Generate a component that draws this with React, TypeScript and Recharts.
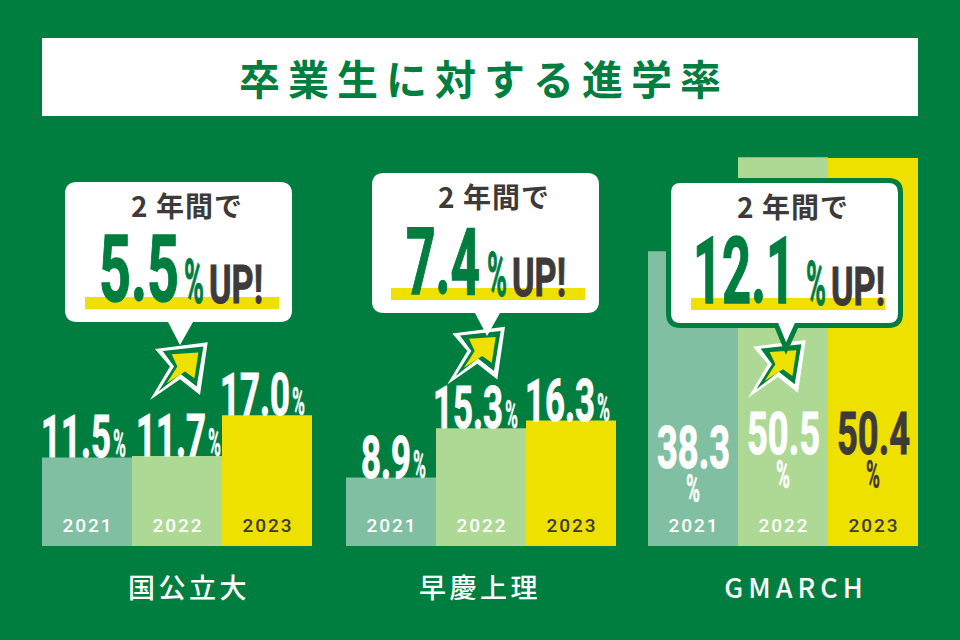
import React from "react";
import { BarChart, Bar, XAxis, YAxis, Cell, LabelList } from "recharts";

const years = ["2021", "2022", "2023"];
const universities = ["国公立大", "早慶上理", "GMARCH"];
const nationalRates = [11.5, 11.7, 17.0];
const sokeiRates = [8.9, 15.3, 16.3];
const gmarchRates = [38.3, 50.5, 50.4];
const gains = ["5.5", "7.4", "12.1"];

const GREEN = "#007E3F";
const DARK = "#3E3A39";
const YELLOW = "#EEE100";
const barColors = ["#80BFA2", "#ADD994", YELLOW];
const yearColors = ["#fff", "#fff", DARK];
const JP = '"Noto Sans CJK JP", sans-serif';
const NARROW = '"Liberation Sans Narrow", "Roboto", sans-serif';

// where each group sits on the page
const charts = [
  { left: 42, nameX: 189, rates: nationalRates, inside: false, nudge: [0, 5, -1] },
  { left: 346, nameX: 480, rates: sokeiRates, inside: false, nudge: [0, -2, 0] },
  { left: 648, nameX: 796, rates: gmarchRates, inside: true, nudge: [0, 0, 0] },
];
const callouts = [
  { x: 65, y: 182, star: [207.7, 342.3], num: [34, 80], pct: 119, up: 144, base: 119, line: 20, border: false },
  { x: 372, y: 173, star: [505, 326.7], num: [34, 74], pct: 115, up: 140, base: 121, line: 19, border: false },
  { x: 671, y: 183, star: [805.7, 340], num: [22, 102], pct: 135, up: 160, base: 120, line: 20, border: true },
];

const starOuter = [[0, 0], [-52.7, 6.7], [-37.7, 24.3], [-57.7, 57.7], [-27.7, 37], [-7.7, 52.7]];
const starMid = [[-4.3, 4.3], [-45, 8.7], [-33.7, 24.3], [-49.3, 49.3], [-27, 31.7], [-11, 44.3]];
const starInner = [[-9.3, 10.3], [-36, 12], [-30.3, 24.3], [-41, 41], [-22.7, 29.3], [-13.3, 36]];

const Condensed = ({ x, y, size, width, fill, children }: any) => (
  <text
    x={x}
    y={y}
    fontFamily={NARROW}
    fontWeight={700}
    fontSize={size}
    fill={fill}
    stroke={fill}
    strokeWidth={size > 70 ? 1.4 : size > 50 ? 1 : 0.4}
    textLength={width}
    lengthAdjust="spacingAndGlyphs"
  >
    {children}
  </text>
);

const AboveLabel = ({ x, y, width, value, nudge }: any) => {
  const text = value.toFixed(1);
  const short = text.length === 3;
  const numW = short ? 50 : 70;
  const start = x + width / 2 - (short ? 30 : 46) + nudge;
  return (
    <g>
      <Condensed x={start} y={y} size={60} width={numW} fill="#fff">{text}</Condensed>
      <Condensed x={start + numW + 2} y={y} size={38} width={13} fill="#fff">%</Condensed>
    </g>
  );
};

const InsideLabel = ({ x, y, width, height, value, index }: any) => {
  const cx = x + width / 2;
  const bottom = y + height;
  const fill = yearColors[index];
  const base = bottom - (value >= 50 ? 92 : 78);
  return (
    <g>
      <Condensed x={cx - 36} y={base} size={60} width={73} fill={fill}>{value.toFixed(1)}</Condensed>
      <Condensed x={cx - 7} y={base + 34} size={38} width={14} fill={fill}>%</Condensed>
    </g>
  );
};

const YearLabel = ({ x, y, width, height, value, index }: any) => (
  <text
    x={x + width / 2 + 1}
    y={y + height - 14}
    textAnchor="middle"
    fontFamily="Roboto, sans-serif"
    fontWeight={500}
    fontSize={19}
    letterSpacing={2}
    fill={yearColors[index]}
  >
    {value}
  </text>
);

const pts = (list: number[][], ox: number, oy: number) =>
  list.map(([a, b]) => `${a + ox},${b + oy}`).join(" ");

const Callout = ({ c, gain }: any) => {
  const e = c.border ? 2.5 : 0;
  const l = -e;
  const t = -e;
  const w = 227 + e;
  const h = 140 + e;
  const r = 12;
  const bubble = `M${l + r} ${t}H${w - r}Q${w} ${t} ${w} ${t + r}V${h - r}Q${w} ${h} ${w - r} ${h}H${128 - e}L115 ${163 + e}L${103 + e} ${h}H${l + r}Q${l} ${h} ${l} ${h - r}V${t + r}Q${l} ${t} ${l + r} ${t}Z`;
  const [sx, sy] = c.star;
  return (
    <g>
      <polygon points={pts(starOuter, sx, sy)} fill="#fff" />
      <polygon points={pts(starMid, sx, sy)} fill={GREEN} />
      <polygon points={pts(starInner, sx, sy)} fill={YELLOW} />
      <g transform={`translate(${c.x},${c.y})`}>
        <path d={bubble} fill="#fff" stroke={GREEN} strokeWidth={c.border ? 5 : 0} />
        <text x={122} y={35} textAnchor="middle" fontFamily={JP} fontWeight={700} fontSize={28} fill={DARK} letterSpacing={1}>
          2 年間で
        </text>
        <rect x={c.line} y={115} width={194} height={12} fill={YELLOW} />
        <Condensed x={c.num[0]} y={c.base} size={92} width={c.num[1]} fill={GREEN}>{gain}</Condensed>
        <Condensed x={c.pct} y={c.base + 2} size={62} width={20} fill={GREEN}>%</Condensed>
        <Condensed x={c.up} y={c.base + 2} size={54} width={54} fill={DARK}>UP!</Condensed>
      </g>
    </g>
  );
};

const App = () => {
  return (
    <div style={{ position: "absolute", left: 0, top: 0, width: 960, height: 640, background: GREEN, overflow: "hidden" }}>
      <div
        style={{
          position: "absolute",
          left: 42,
          top: 38,
          width: 876,
          height: 78,
          lineHeight: "78px",
          background: "#fff",
          color: GREEN,
          textAlign: "center",
          textIndent: 8,
          fontFamily: JP,
          fontWeight: 700,
          fontSize: 41,
          letterSpacing: 8,
        }}
      >
        卒業生に対する進学率
      </div>

      {charts.map((chart, g) => {
        const data = years.map((year, i) => ({ year, rate: chart.rates[i] }));
        const Label = chart.inside ? InsideLabel : AboveLabel;
        return (
          <div key={g} style={{ position: "absolute", left: chart.left, top: 115 }}>
            <BarChart width={270} height={431} data={data} barCategoryGap={0} margin={{ top: 0, right: 0, bottom: 0, left: 0 }}>
              <XAxis dataKey="year" hide />
              <YAxis hide domain={[0, 56]} />
              <Bar dataKey="rate" isAnimationActive={false}>
                {data.map((_, i) => (
                  <Cell key={i} fill={barColors[i]} />
                ))}
                <LabelList dataKey="rate" content={(p: any) => <Label {...p} nudge={chart.nudge[p.index]} />} />
                <LabelList dataKey="year" content={(p: any) => <YearLabel {...p} />} />
              </Bar>
            </BarChart>
          </div>
        );
      })}

      {charts.map((chart, g) => (
        <div
          key={g}
          style={{
            position: "absolute",
            left: chart.nameX - 150,
            width: 300,
            top: 569,
            textAlign: "center",
            color: "#fff",
            fontFamily: JP,
            fontWeight: 500,
            fontSize: 27,
            lineHeight: "36px",
            letterSpacing: g === 2 ? 5 : 3.5,
          }}
        >
          {universities[g]}
        </div>
      ))}

      <svg width={960} height={640} style={{ position: "absolute", left: 0, top: 0, pointerEvents: "none" }}>
        {callouts.map((c, g) => (
          <Callout key={g} c={c} gain={gains[g]} />
        ))}
      </svg>
    </div>
  );
};

export default App;
